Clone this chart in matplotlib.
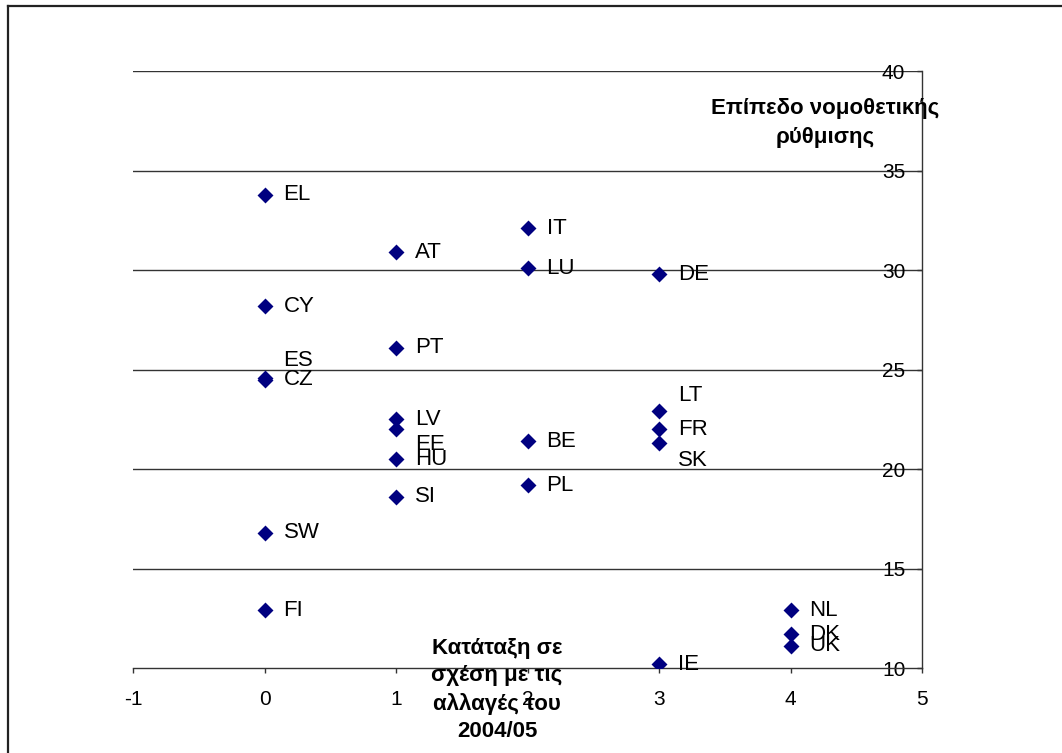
import matplotlib
matplotlib.use("Agg")
import matplotlib.pyplot as plt
from matplotlib.lines import Line2D

plt.rcParams['font.family'] = ['Liberation Sans', 'DejaVu Sans']

# ---- data ----
countries = ["EL", "CY", "ES", "CZ", "SW", "FI",
             "AT", "PT", "LV", "EE", "HU", "SI",
             "IT", "LU", "BE", "PL",
             "DE", "LT", "FR", "SK", "IE",
             "NL", "DK", "UK"]
ranking = [0, 0, 0, 0, 0, 0,
           1, 1, 1, 1, 1, 1,
           2, 2, 2, 2,
           3, 3, 3, 3, 3,
           4, 4, 4]
regulation = [33.8, 28.2, 24.6, 24.5, 16.8, 12.9,
              30.9, 26.1, 22.5, 22.0, 20.5, 18.6,
              32.1, 30.1, 21.4, 19.2,
              29.8, 22.9, 22.0, 21.3, 10.2,
              12.9, 11.7, 11.1]
x_ticks = [-1, 0, 1, 2, 3, 4, 5]
y_ticks = [10, 15, 20, 25, 30, 35, 40]
x_title = "Κατάταξη σε\nσχέση με τις\nαλλαγές του\n2004/05"
y_title = "Επίπεδο νομοθετικής\nρύθμισης"

# label vertical nudges (points), style only
label_dy = {"ES": 12.0, "EE": -10.8, "LT": 11.8, "SK": -12.2, "UK": 0.7}

fig = plt.figure(figsize=(10.62, 7.53), dpi=100)
ax = fig.add_axes([133 / 1062, 1 - 668 / 753, (922 - 133) / 1062, (668 - 71.3) / 753])

ax.scatter(ranking, regulation, marker='D', s=66, color='#000080', zorder=3,
           linewidths=0)
for c, x, y in zip(countries, ranking, regulation):
    ax.annotate(c, (x, y), xytext=(13.7, label_dy.get(c, 0.0)),
                textcoords='offset points', ha='left', va='center',
                fontsize=16, color='black', zorder=4)

ax.set_xlim(-1, 5)
ax.set_ylim(10, 40)
ax.set_xticks(x_ticks)
ax.set_yticks(y_ticks)
ax.set_xticklabels([str(v) for v in x_ticks])
ax.set_yticklabels([str(v) for v in y_ticks])

for yv in y_ticks[1:]:
    ax.axhline(yv, color='#333333', lw=1.0, zorder=1)

ax.spines['top'].set_visible(False)
ax.spines['right'].set_visible(False)
ax.spines['left'].set_position(('data', 5))
for s in ('left', 'bottom'):
    ax.spines[s].set_color('#333333')
    ax.spines[s].set_linewidth(1.0)

ax.tick_params(axis='x', direction='out', length=3.6, width=1, color='#333333',
               pad=12, labelsize=15)
ax.tick_params(axis='y', direction='out', length=3.6, width=1, color='#333333',
               pad=8.4, labelsize=15)
ax.set_facecolor('none')

fig.text(825 / 1062, 1 - 123 / 753, y_title, ha='center', va='center',
         fontsize=16, fontweight='bold', linespacing=1.45)
fig.text(497 / 1062, 1 - 690 / 753, x_title, ha='center', va='center',
         fontsize=16, fontweight='bold', linespacing=1.4)

# outer chart border (left and top edges visible)
fig.add_artist(Line2D([7.5 / 1062, 7.5 / 1062], [0, 1 - 6 / 753],
                      transform=fig.transFigure, color='#222222', lw=1.6))
fig.add_artist(Line2D([7.5 / 1062, 1], [1 - 6 / 753, 1 - 6 / 753],
                      transform=fig.transFigure, color='#222222', lw=1.6))

fig.savefig("out.png", dpi=100)
